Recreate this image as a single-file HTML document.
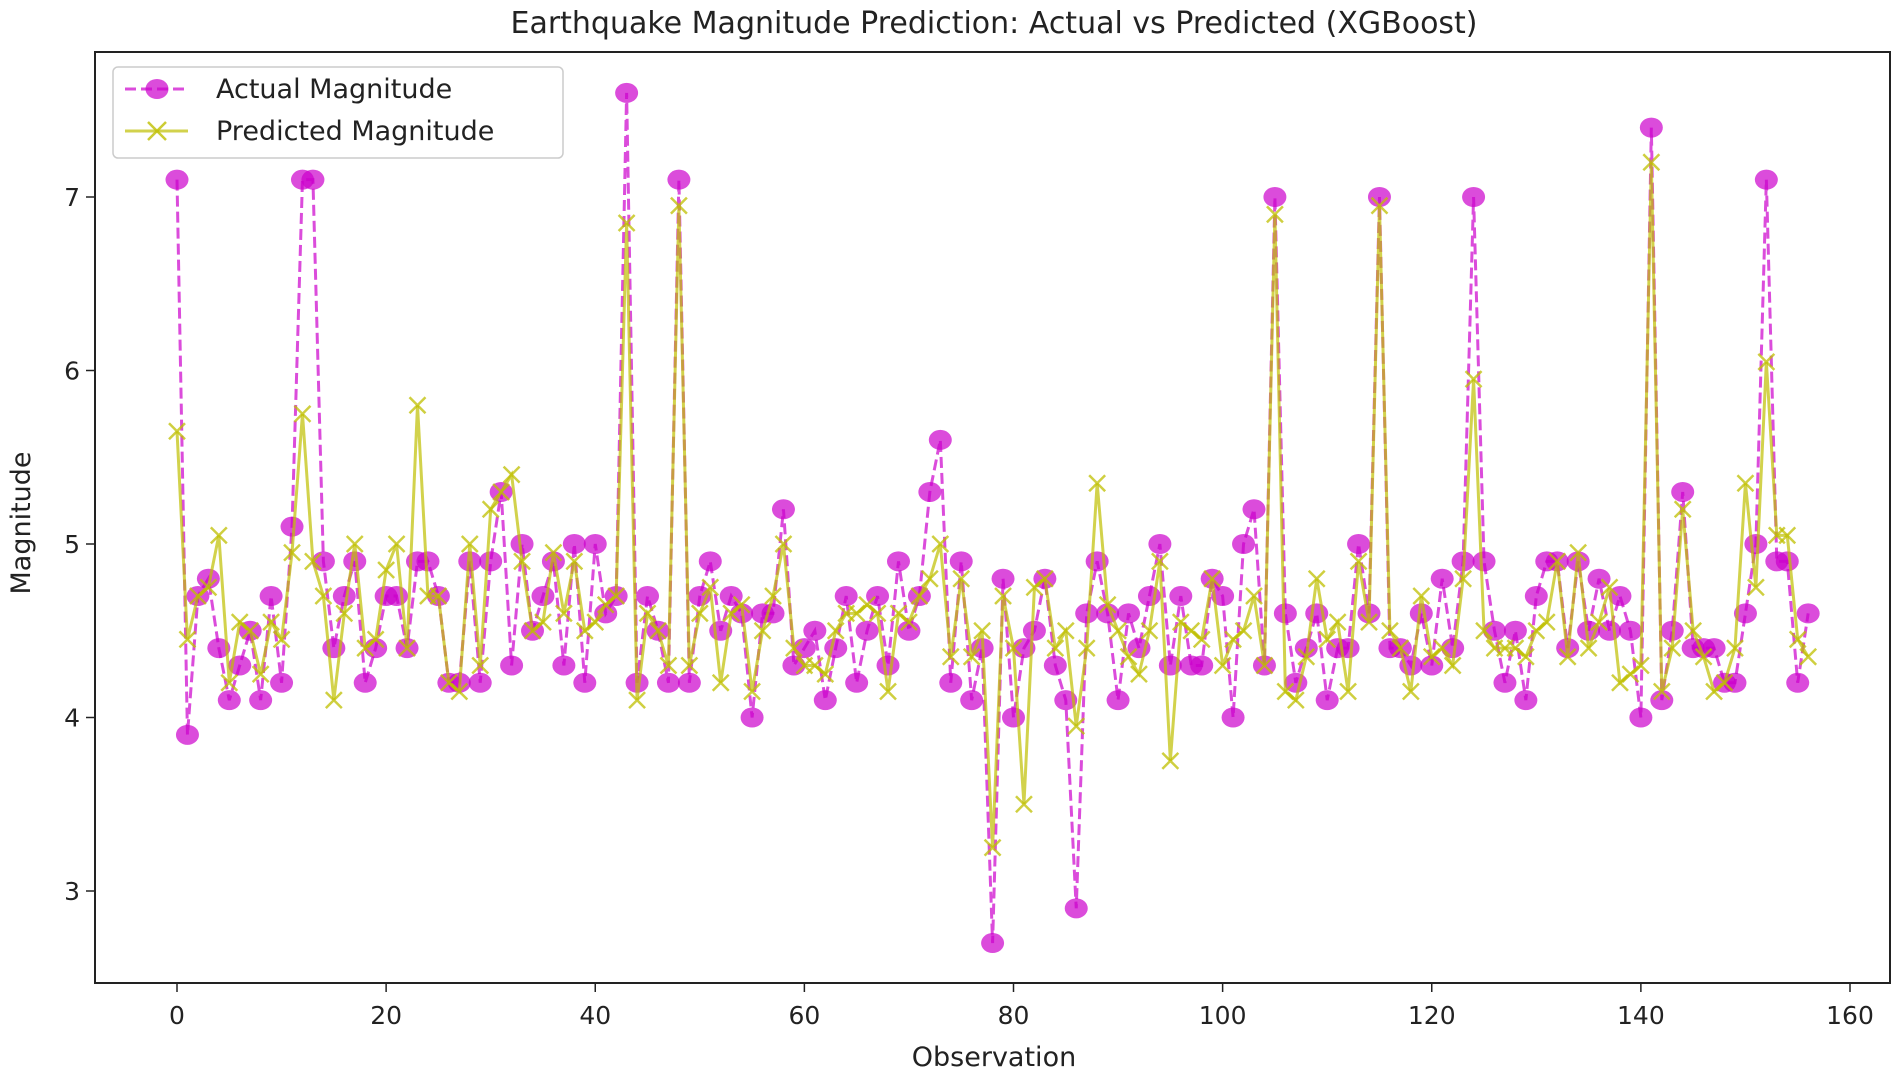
<!DOCTYPE html>
<html><head><meta charset="utf-8"><style>
html,body{margin:0;padding:0;background:#fff;}
svg{display:block;font-family:"DejaVu Sans","Liberation Sans",sans-serif;}
</style></head><body>
<svg id="chart" width="1902" height="1072" viewBox="0 0 1902 1072" xmlns="http://www.w3.org/2000/svg">
<text x="994" y="33" font-size="30" text-anchor="middle" fill="#222">Earthquake Magnitude Prediction: Actual vs Predicted (XGBoost)</text>
<g id="plot"></g>
<rect x="95" y="52" width="1795" height="931" fill="none" stroke="#222" stroke-width="2"/>
<text x="994" y="1066" font-size="27" text-anchor="middle" fill="#222">Observation</text>
<text x="0" y="0" font-size="27" text-anchor="middle" fill="#222" transform="translate(30,523) rotate(-90)">Magnitude</text>
<g>
<rect x="113" y="67" width="450" height="91" rx="5" fill="#fff" fill-opacity="0.85" stroke="#ccc" stroke-width="1.5"/>
<g>
<line x1="125" y1="89" x2="188" y2="89" stroke="#cc00cc" stroke-opacity="0.7" stroke-width="3" stroke-dasharray="11,5"/>
<ellipse cx="157" cy="89" rx="11.5" ry="10" fill="#cc00cc" fill-opacity="0.7"/>
<text x="216" y="98" font-size="27" fill="#222">Actual Magnitude</text>
</g>
<g>
<line x1="125" y1="131" x2="188" y2="131" stroke="#bfbf00" stroke-opacity="0.7" stroke-width="3"/>
<path d="M148 122 L166 140 M166 122 L148 140" stroke="#bfbf00" stroke-opacity="0.8" stroke-width="2.5"/>
<text x="216" y="140" font-size="27" fill="#222">Predicted Magnitude</text>
</g>
</g>
</svg>
<script>
const xTicks = [0,20,40,60,80,100,120,140,160];
const yTicks = [3,4,5,6,7];
const actual = [7.1,3.9,4.7,4.8,4.4,4.1,4.3,4.5,4.1,4.7,4.2,5.1,7.1,7.1,4.9,4.4,4.7,4.9,4.2,4.4,4.7,4.7,4.4,4.9,4.9,4.7,4.2,4.2,4.9,4.2,4.9,5.3,4.3,5.0,4.5,4.7,4.9,4.3,5.0,4.2,5.0,4.6,4.7,7.6,4.2,4.7,4.5,4.2,7.1,4.2,4.7,4.9,4.5,4.7,4.6,4.0,4.6,4.6,5.2,4.3,4.4,4.5,4.1,4.4,4.7,4.2,4.5,4.7,4.3,4.9,4.5,4.7,5.3,5.6,4.2,4.9,4.1,4.4,2.7,4.8,4.0,4.4,4.5,4.8,4.3,4.1,2.9,4.6,4.9,4.6,4.1,4.6,4.4,4.7,5.0,4.3,4.7,4.3,4.3,4.8,4.7,4.0,5.0,5.2,4.3,7.0,4.6,4.2,4.4,4.6,4.1,4.4,4.4,5.0,4.6,7.0,4.4,4.4,4.3,4.6,4.3,4.8,4.4,4.9,7.0,4.9,4.5,4.2,4.5,4.1,4.7,4.9,4.9,4.4,4.9,4.5,4.8,4.5,4.7,4.5,4.0,7.4,4.1,4.5,5.3,4.4,4.4,4.4,4.2,4.2,4.6,5.0,7.1,4.9,4.9,4.2,4.6];
const predicted = [5.65,4.45,4.7,4.75,5.05,4.2,4.55,4.5,4.25,4.55,4.45,4.95,5.75,4.9,4.7,4.1,4.6,5.0,4.4,4.45,4.85,5.0,4.4,5.8,4.7,4.7,4.2,4.15,5.0,4.3,5.2,5.3,5.4,4.9,4.5,4.55,4.95,4.6,4.9,4.5,4.55,4.65,4.7,6.85,4.1,4.6,4.5,4.3,6.95,4.3,4.6,4.75,4.2,4.6,4.65,4.15,4.5,4.7,5.0,4.4,4.3,4.3,4.25,4.5,4.6,4.6,4.65,4.6,4.15,4.6,4.55,4.7,4.8,5.0,4.35,4.8,4.35,4.5,3.25,4.7,4.4,3.5,4.75,4.8,4.4,4.5,3.95,4.4,5.35,4.65,4.5,4.35,4.25,4.5,4.9,3.75,4.55,4.5,4.45,4.8,4.3,4.45,4.5,4.7,4.3,6.9,4.15,4.1,4.35,4.8,4.45,4.55,4.15,4.9,4.55,6.95,4.5,4.4,4.15,4.7,4.35,4.4,4.3,4.8,5.95,4.5,4.4,4.4,4.4,4.35,4.5,4.55,4.9,4.35,4.95,4.4,4.55,4.75,4.2,4.25,4.3,7.2,4.15,4.4,5.2,4.5,4.35,4.15,4.2,4.4,5.35,4.75,6.05,5.05,5.05,4.45,4.35];

const NS = 'http://www.w3.org/2000/svg';
const X0 = 177, XPU = (1850-177)/160;
const Y7 = 197, YPU = 173.5;
function xs(v){ return X0 + v*XPU; }
function ys(v){ return Y7 + (7 - v)*YPU; }
const plot = document.getElementById('plot');
function mk(tag, attrs, parent){ const e=document.createElementNS(NS,tag); for(const k in attrs) e.setAttribute(k,attrs[k]); (parent||plot).appendChild(e); return e; }

xTicks.forEach(t=>{
  const g = mk('g',{});
  
  
  mk('line',{x1:xs(t),x2:xs(t),y1:983,y2:992,stroke:'#222','stroke-width':1.5},g);
  mk('text',{x:xs(t),y:1024,'font-size':25,'text-anchor':'middle',fill:'#222'},g).textContent=t;
});
yTicks.forEach(t=>{
  const g = mk('g',{});
  
  
  mk('line',{x1:86,x2:95,y1:ys(t),y2:ys(t),stroke:'#222','stroke-width':1.5},g);
  mk('text',{x:80,y:ys(t)+9,'font-size':25,'text-anchor':'end',fill:'#222'},g).textContent=t;
});

const aPts = actual.map((v,i)=>xs(i)+','+ys(v)).join(' ');
const aLine = mk('polyline',{points:aPts,fill:'none',stroke:'#cc00cc','stroke-opacity':0.7,'stroke-width':3,'stroke-dasharray':'11,5'});


const aG = mk('g',{fill:'#cc00cc','fill-opacity':0.7});


actual.forEach((v,i)=>{
  const e = mk('ellipse',{cx:xs(i),cy:ys(v),rx:11.5,ry:10},aG);
  
  
});

const pPts = predicted.map((v,i)=>xs(i)+','+ys(v)).join(' ');
const pLine = mk('polyline',{points:pPts,fill:'none',stroke:'#bfbf00','stroke-opacity':0.7,'stroke-width':3});


const pG = mk('g',{stroke:'#bfbf00','stroke-opacity':0.75,'stroke-width':2.5});


predicted.forEach((v,i)=>{
  const x=xs(i), y=ys(v), s=8;
  const e = mk('path',{d:`M${x-s} ${y-s} L${x+s} ${y+s} M${x+s} ${y-s} L${x-s} ${y+s}`},pG);
  
  
});
</script>
</body></html>
